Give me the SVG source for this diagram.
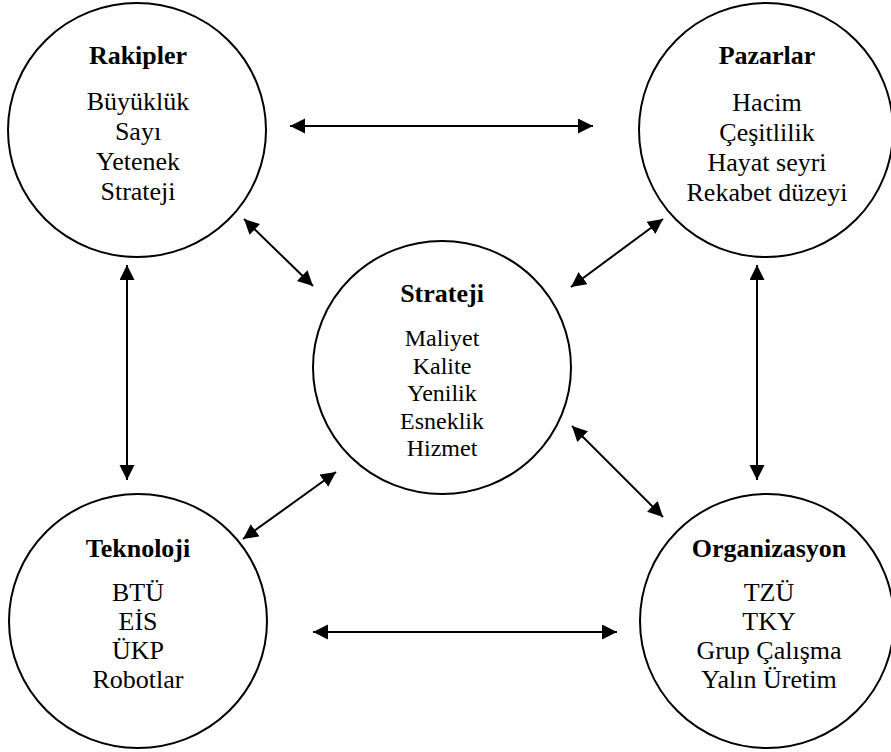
<svg xmlns="http://www.w3.org/2000/svg" width="891" height="752" viewBox="0 0 891 752">
<style>
.node ellipse{fill:#fff;stroke:#000;stroke-width:2}
text{font-family:"Liberation Serif","Times New Roman",serif;fill:#000;text-anchor:middle}
.t{font-weight:bold;font-size:26px}
.i{font-size:26px}
.ic{font-size:24px}
#connectors line{stroke:#000;stroke-width:2;marker-start:url(#ah);marker-end:url(#ah)}
</style>
<defs>
<marker id="ah" markerUnits="userSpaceOnUse" markerWidth="16" markerHeight="16" viewBox="0 0 16 16" refX="15" refY="7.5" orient="auto-start-reverse">
<path d="M0,0 L15,7.5 L0,15 z" fill="#000"/>
</marker>
</defs>
<rect width="891" height="752" fill="#fff"/>
<g id="rakipler" class="node">
<ellipse cx="137" cy="130" rx="129" ry="127"/>
<text class="t" x="138" y="64">Rakipler</text>
<text class="i" x="138" y="110">Büyüklük</text>
<text class="i" x="138" y="140">Sayı</text>
<text class="i" x="138" y="170">Yetenek</text>
<text class="i" x="138" y="200">Strateji</text>
</g>
<g id="pazarlar" class="node">
<ellipse cx="766" cy="130" rx="127" ry="127"/>
<text class="t" x="767" y="64">Pazarlar</text>
<text class="i" x="767" y="111">Hacim</text>
<text class="i" x="767" y="141">Çeşitlilik</text>
<text class="i" x="767" y="171">Hayat seyri</text>
<text class="i" x="767" y="201">Rekabet düzeyi</text>
</g>
<g id="strateji" class="node">
<ellipse cx="442" cy="367.5" rx="129" ry="126.5"/>
<text class="t" x="442" y="302">Strateji</text>
<text class="ic" x="442" y="346">Maliyet</text>
<text class="ic" x="442" y="374">Kalite</text>
<text class="ic" x="442" y="401">Yenilik</text>
<text class="ic" x="442" y="429">Esneklik</text>
<text class="ic" x="442" y="456">Hizmet</text>
</g>
<g id="teknoloji" class="node">
<ellipse cx="138" cy="621" rx="129" ry="127"/>
<text class="t" x="138" y="557">Teknoloji</text>
<text class="i" x="138" y="601">BTÜ</text>
<text class="i" x="138" y="630">EİS</text>
<text class="i" x="138" y="659">ÜKP</text>
<text class="i" x="138" y="688">Robotlar</text>
</g>
<g id="organizasyon" class="node">
<ellipse cx="767" cy="621" rx="127" ry="127"/>
<text class="t" x="769" y="557">Organizasyon</text>
<text class="i" x="769" y="601">TZÜ</text>
<text class="i" x="769" y="630">TKY</text>
<text class="i" x="769" y="659">Grup Çalışma</text>
<text class="i" x="769" y="688">Yalın Üretim</text>
</g>
<g id="connectors">
<line x1="290" y1="126" x2="593" y2="126"/>
<line x1="313" y1="632" x2="617" y2="632"/>
<line x1="127" y1="265" x2="127" y2="480"/>
<line x1="757" y1="265" x2="757" y2="480"/>
<line x1="244" y1="219" x2="313" y2="286"/>
<line x1="663" y1="219" x2="571" y2="287"/>
<line x1="336" y1="472" x2="243" y2="539"/>
<line x1="572" y1="426" x2="663" y2="517"/>
</g>
</svg>
